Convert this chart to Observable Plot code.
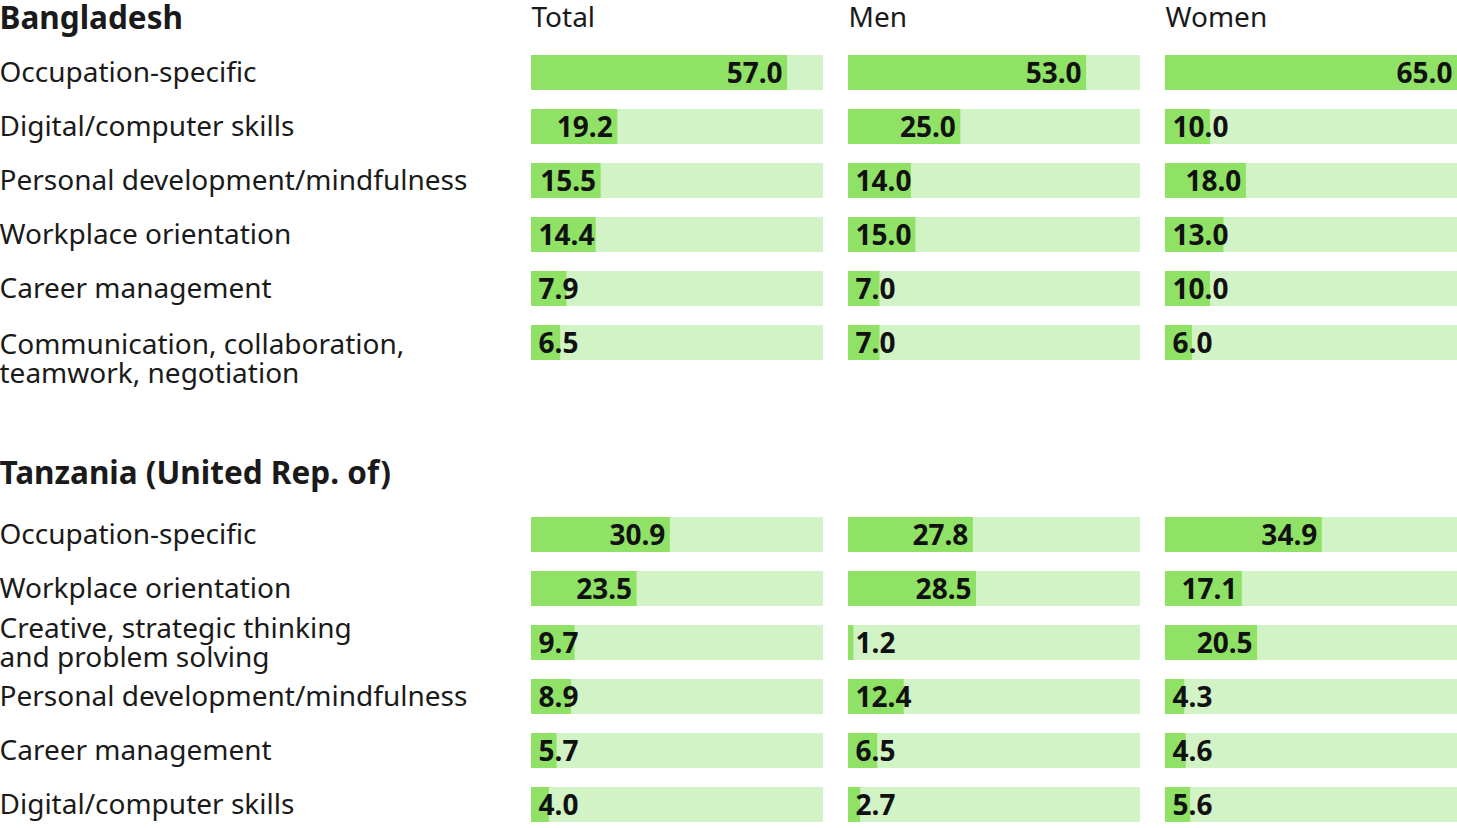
<!DOCTYPE html>
<html>
<head>
<meta charset="utf-8">
<script src="https://cdn.jsdelivr.net/npm/d3@7"></script>
<script src="https://cdn.jsdelivr.net/npm/@observablehq/plot@0.6"></script>
<style>
  html, body { margin: 0; padding: 0; background: #fff; overflow: hidden; }
  #chart svg { display: block; }
</style>
</head>
<body>
<div id="chart"></div>
<script>
// ---- Data ----
const groups = ["Total", "Men", "Women"];

const bdTitle = "Bangladesh";
const bdCategories = [
  "Occupation-specific",
  "Digital/computer skills",
  "Personal development/mindfulness",
  "Workplace orientation",
  "Career management",
  "Communication, collaboration,\nteamwork, negotiation"
];
const bdTotal = [57.0, 19.2, 15.5, 14.4, 7.9, 6.5];
const bdMen   = [53.0, 25.0, 14.0, 15.0, 7.0, 7.0];
const bdWomen = [65.0, 10.0, 18.0, 13.0, 10.0, 6.0];

const tzTitle = "Tanzania (United Rep. of)";
const tzCategories = [
  "Occupation-specific",
  "Workplace orientation",
  "Creative, strategic thinking\nand problem solving",
  "Personal development/mindfulness",
  "Career management",
  "Digital/computer skills"
];
const tzTotal = [30.9, 23.5, 9.7, 8.9, 5.7, 4.0];
const tzMen   = [27.8, 28.5, 1.2, 12.4, 6.5, 2.7];
const tzWomen = [34.9, 17.1, 20.5, 4.3, 4.6, 5.6];

// ---- Layout constants ----
const W = 1457, ML = 530, PAD = 0.08;
const FONT = "'Noto Sans', sans-serif";
const DARK = "#8fe266", LIGHT = "#d2f3c5", INK = "#1a1a1a";
const xMax = d3.max([...bdTotal, ...bdMen, ...bdWomen, ...tzTotal, ...tzMen, ...tzWomen]);
const step = (W - ML) / (groups.length - PAD);
const bandW = step * (1 - PAD);
const k = bandW / xMax; // px per unit

function labelWidth(s) {
  let w = 0;
  for (const ch of s) w += ch === "." ? 8 : 16;
  return w;
}

function section({title, cats, values, headers, height, marginTop, marginBottom, titleDy, special}) {
  const rows = [];
  cats.forEach((c, i) => groups.forEach((g, j) => rows.push({cat: c, group: g, value: values[j][i]})));
  const marks = [
    Plot.barX(rows, {fx: "group", y: "cat", x1: () => 0, x2: () => xMax, fill: LIGHT}),
    Plot.barX(rows, {fx: "group", y: "cat", x1: () => 0, x2: "value", fill: DARK}),
    Plot.text(rows, {
      fx: "group", y: "cat",
      x: d => Math.max(d.value - 5 / k, (labelWidth(d.value.toFixed(1)) + 7) / k),
      text: d => d.value.toFixed(1), dy: 1.5,
      textAnchor: "end", fontWeight: "bold", fontSize: 28, fill: "#111"
    }),
    Plot.text(cats.filter(c => c !== special), {
      fx: () => "Total", y: d => d, text: d => d,
      frameAnchor: "left", textAnchor: "start", lineAnchor: "middle", dx: -ML - 2,
      fontSize: 28, lineHeight: 1.04, fill: INK
    }),
    Plot.text([title], {
      fx: () => "Total", frameAnchor: "top-left", textAnchor: "start", lineAnchor: "middle",
      dx: -ML - 2, dy: titleDy, fontSize: 31.5, fontWeight: "bold", fill: INK
    })
  ];
  if (special) {
    marks.push(Plot.text([special], {
      fx: () => "Total", y: d => d, text: d => d,
      frameAnchor: "left", textAnchor: "start", lineAnchor: "middle", dx: -ML - 2, dy: 16,
      fontSize: 28, lineHeight: 1.04, fill: INK
    }));
  }
  if (headers) {
    marks.push(Plot.text(groups, {
      fx: d => d, text: d => d, frameAnchor: "top-left", textAnchor: "start", lineAnchor: "middle",
      dy: titleDy, fontSize: 28, fill: INK
    }));
  }
  return Plot.plot({
    width: W, height, marginLeft: ML, marginRight: 0, marginTop, marginBottom,
    fx: {domain: groups, paddingInner: PAD, paddingOuter: 0, axis: null, label: null},
    x: {domain: [0, xMax], axis: null},
    y: {domain: cats, paddingInner: 0.352, paddingOuter: 0, axis: null},
    style: {fontFamily: FONT, background: "#fff", color: INK, overflow: "visible"},
    marks
  });
}

const chart = document.getElementById("chart");
chart.append(section({
  title: bdTitle, cats: bdCategories, values: [bdTotal, bdMen, bdWomen],
  headers: true, height: 400, marginTop: 55, marginBottom: 40, titleDy: -37,
  special: bdCategories[5]
}));
chart.append(section({
  title: tzTitle, cats: tzCategories, values: [tzTotal, tzMen, tzWomen],
  headers: false, height: 428, marginTop: 117, marginBottom: 6, titleDy: -44,
  special: null
}));
</script>
</body>
</html>
